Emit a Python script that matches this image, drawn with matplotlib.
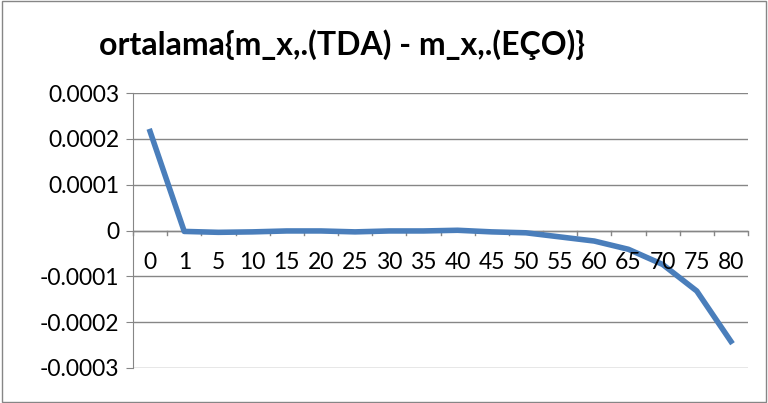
import matplotlib.pyplot as plt
import numpy as np
from matplotlib.patches import Rectangle

plt.rcParams['font.family'] = ['Lato', 'DejaVu Sans']

ages = ['0', '1', '5', '10', '15', '20', '25', '30', '35', '40',
        '45', '50', '55', '60', '65', '70', '75', '80']
diff = [0.000216, -0.000002, -0.000004, -0.000003, -0.000001, -0.000001,
        -0.000003, -0.000001, -0.000001, 0.0000005, -0.000003, -0.000005,
        -0.000014, -0.000023, -0.000041, -0.000074, -0.000132, -0.000242]
yticks = [0.0003, 0.0002, 0.0001, 0, -0.0001, -0.0002, -0.0003]
ylabels = ['0.0003', '0.0002', '0.0001', '0', '-0.0001', '-0.0002', '-0.0003']

fig = plt.figure(figsize=(7.68, 4.03), dpi=100)
ax = fig.add_axes([133/768, 1 - 368/403, 615/768, 275/403])

x = np.arange(len(ages))
ax.plot(x, diff, color='#4a7ebb', lw=4, solid_joinstyle='round')

ax.set_xlim(-0.5, len(ages) - 0.5)
ax.set_ylim(-0.0003, 0.0003)
ax.set_yticks(yticks)
ax.set_yticklabels(ylabels, fontsize=16.5)
ax.grid(axis='y', color='#868686', lw=1)
ax.set_axisbelow(True)
for s in ['top', 'right', 'bottom']:
    ax.spines[s].set_visible(False)
ax.spines['left'].set_color('#868686')
ax.tick_params(axis='y', length=5, color='#868686', pad=5)

# category axis sits on the zero line
ax.axhline(0, color='#868686', lw=1, zorder=1)
ax.set_xticks([])
for b in np.arange(-0.5, len(ages), 1.0):
    ax.plot([b, b], [0, -0.00001], color='#868686', lw=1, clip_on=False, zorder=1)
for i, lab in enumerate(ages):
    ax.text(i, -0.0000705, lab, ha='center', va='center', fontsize=16.5)

fig.text(342/768, 1 - 45/403, 'ortalama{m_x,.(TDA) - m_x,.(EÇO)}',
         ha='center', va='center', fontsize=23, fontweight='bold')

fig.patches.append(Rectangle((0.002, 0.003), 0.996, 0.994, transform=fig.transFigure,
                             fill=False, edgecolor='#868686', lw=1))

fig.savefig('out.png', dpi=100)
